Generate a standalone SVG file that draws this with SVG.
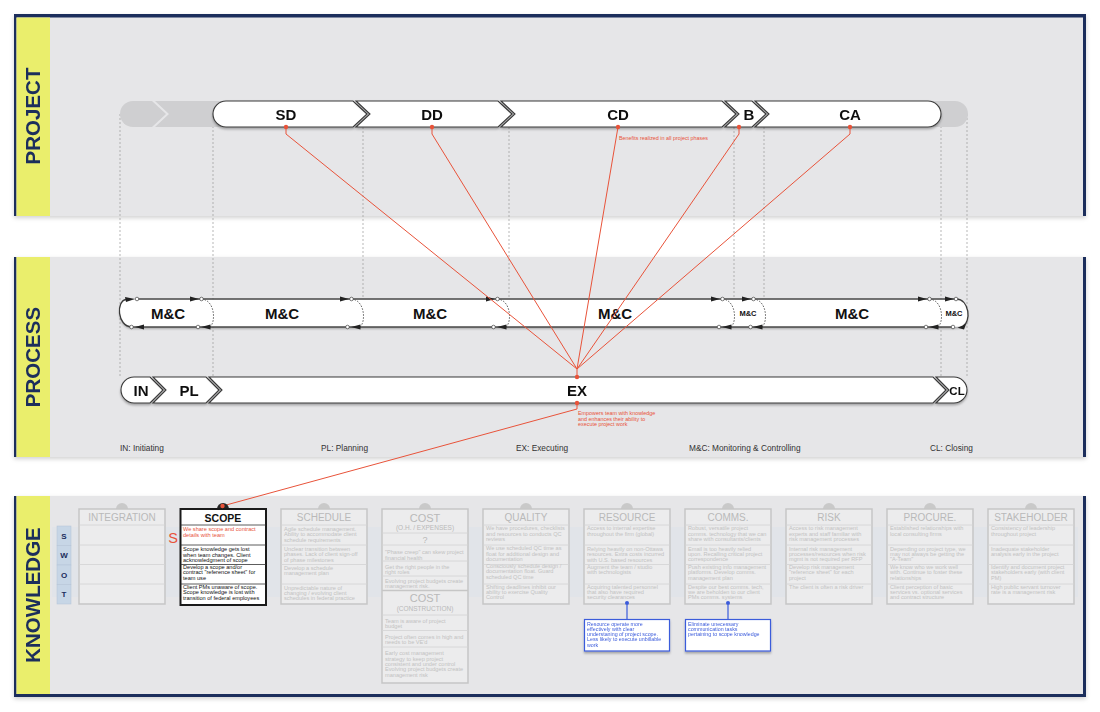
<svg xmlns="http://www.w3.org/2000/svg" width="1100" height="712" viewBox="0 0 1100 712">
<defs>
<filter id="sh" x="-5%" y="-30%" width="110%" height="180%"><feDropShadow dx="0" dy="1.8" stdDeviation="1.3" flood-color="#000" flood-opacity="0.3"/></filter>
<filter id="bsh" x="-2%" y="-5%" width="104%" height="112%"><feDropShadow dx="0" dy="2" stdDeviation="2" flood-color="#000" flood-opacity="0.18"/></filter>
<style>
.navy{fill:#1b2d5c}
.band{fill:#e6e6e8}
.yel{fill:#eaee6c}
.lbl{font-family:"Liberation Sans",Arial,sans-serif;font-weight:bold;font-size:20.5px;fill:#1b2d5c;text-anchor:middle}
.ph{fill:#fff;stroke:#3a3a3a;stroke-width:1.1}
.gh{fill:#cfcfd1}
.pt{font-family:"Liberation Sans",Arial,sans-serif;font-weight:bold;font-size:15px;fill:#111;text-anchor:middle}
.mc{font-family:"Liberation Sans",Arial,sans-serif;font-weight:bold;font-size:15px;fill:#111;text-anchor:middle}
.mcs{font-family:"Liberation Sans",Arial,sans-serif;font-weight:bold;font-size:7.5px;fill:#111;text-anchor:middle}
.dl{stroke:#9a9a9a;stroke-width:0.7;stroke-dasharray:2 2;fill:none}
.red{stroke:#e8533a;stroke-width:1;fill:none}
.rdot{fill:#e8533a}
.rt{font-family:"Liberation Sans",Arial,sans-serif;font-size:5.4px;fill:#e8533a}
.edge{stroke:#4a4a4a;stroke-width:1.4;fill:none}
.darc{stroke:#555;stroke-width:0.9;stroke-dasharray:1.6 1.4;fill:none}
.sarc{stroke:#3a3a3a;stroke-width:1.3;fill:none}
.ah{fill:#222}
.oc{fill:#fff;stroke:#444;stroke-width:0.7}
.leg{font-family:"Liberation Sans",Arial,sans-serif;font-size:8.3px;fill:#333}
.card{fill:#ececed;stroke:#c6c6c6;stroke-width:1.5}
.row{stroke:#d3d3d3;stroke-width:0.8;fill:none}
.tab{fill:#c9c9c9}
.title{font-family:"Liberation Sans",Arial,sans-serif;font-size:10px;fill:#b9b9b9;text-anchor:middle}
.sub{font-family:"Liberation Sans",Arial,sans-serif;font-size:6.5px;fill:#b9b9b9;text-anchor:middle}
.ct{font-family:"Liberation Sans",Arial,sans-serif;font-size:5.6px;fill:#c2c2c2}
.st{font-family:"Liberation Sans",Arial,sans-serif;font-size:5.6px;fill:#111}
.sw{fill:#c7d6e6;stroke:#b3c3d6;stroke-width:0.5}
.swt{font-family:"Liberation Sans",Arial,sans-serif;font-weight:bold;font-size:8px;fill:#1b2d5c;text-anchor:middle}
.blue{stroke:#3b5bdb;stroke-width:1.2;fill:none}
.bbox{fill:#fff;stroke:#3b5bdb;stroke-width:1.2}
.bt{font-family:"Liberation Sans",Arial,sans-serif;font-size:5.3px;fill:#3b5bdb}
</style>
</defs>
<rect width="1100" height="712" fill="#fff"/>

<!-- bands -->
<g id="band-project" filter="url(#bsh)">
<rect class="navy" x="14" y="14" width="1072" height="202"/>
<rect class="band" x="16.5" y="17.5" width="1066.5" height="198.5"/>
<rect class="yel" x="16.5" y="17.5" width="33.5" height="198.5"/>
<text class="lbl" transform="translate(40,116) rotate(-90)">PROJECT</text>
</g>
<g id="band-process" filter="url(#bsh)">
<rect class="navy" x="14" y="257" width="1072" height="200"/>
<rect class="band" x="16.5" y="257" width="1066.5" height="200"/>
<rect class="yel" x="16.5" y="257" width="33.5" height="200"/>
<text class="lbl" transform="translate(40,357) rotate(-90)">PROCESS</text>
</g>
<g id="band-knowledge" filter="url(#bsh)">
<rect class="navy" x="14" y="496" width="1072" height="201"/>
<rect class="band" x="16.5" y="496" width="1066.5" height="198"/>
<rect class="yel" x="16.5" y="496" width="33.5" height="198"/>
<text class="lbl" transform="translate(40,595) rotate(-90)">KNOWLEDGE</text>
<rect x="52" y="527" width="1026" height="70" fill="#dbe2ea" opacity="0.45"/>
</g>

<!-- dotted guide lines -->
<g id="guides">
<path class="dl" d="M120,114V377M213,114V377M941,114V377M967,114V377M363,127V299M509,127V299M734,127V299M764,127V299"/>
</g>

<!-- project phase bar -->
<g id="project-ghost">
<path class="gh" d="M133,101H152L166,114L152,127H133A13,13 0 0 1 133,101Z"/>
<path class="gh" d="M155,101H235V127H155L169,114Z"/>
<path class="gh" d="M915,101H955A13,13 0 0 1 955,127H915Z"/>
</g>
<g id="phase-sd" filter="url(#sh)"><path class="ph" d="M226,101H353L367,114L353,127H226A13,13 0 0 1 226,101Z"/><text class="pt" x="286" y="119.5">SD</text></g>
<g id="phase-dd" filter="url(#sh)"><path class="ph" d="M356,101H498L512,114L498,127H356L370,114Z"/><text class="pt" x="432" y="119.5">DD</text></g>
<g id="phase-cd" filter="url(#sh)"><path class="ph" d="M501,101H722L736,114L722,127H501L515,114Z"/><text class="pt" x="618" y="119.5">CD</text></g>
<g id="phase-b" filter="url(#sh)"><path class="ph" d="M725,101H752L766,114L752,127H725L739,114Z"/><text class="pt" x="749" y="119.5">B</text></g>
<g id="phase-ca" filter="url(#sh)"><path class="ph" d="M755,101H928A13,13 0 0 1 928,127H755L769,114Z"/><text class="pt" x="850" y="119.5">CA</text></g>
<text class="rt" x="619" y="140">Benefits realized in all project phases</text>

<!-- M&C loop bar -->
<g id="mc-loop">
<path fill="#fff" filter="url(#sh)" d="M126,299.5H956C970,299.5 971,322 963,326L953,327H131.5C117,326 116,301 126,299.5Z"/>
<path class="edge" d="M136.5,299H956M131.5,327H953"/>
<path class="sarc" d="M131.5,327C117,326 116,301 126,299.5"/>
<polygon class="ah" points="125,297 135,299 126,302"/>
<polygon class="ah" points="144,324.5 135,327 144,329.5"/>
<circle class="oc" cx="137" cy="299" r="1.8"/>
<circle class="oc" cx="131.5" cy="327" r="1.8"/>
<path class="sarc" d="M956,299C970,299.5 971,322 963,326"/>
<polygon class="ah" points="945,296.5 954,299 945,301.5"/>
<polygon class="ah" points="966,324 957.5,327.8 964,329.4"/>
<circle class="oc" cx="956" cy="299" r="1.8"/>
<circle class="oc" cx="953" cy="327" r="1.8"/>
<path class="darc" d="M201.5,299C215,300 216,322 210,327M351.5,299C365,300 366,322 360,327M497.5,299C511,300 512,322 506,327M722.5,299C736,300 737,322 731,327M753.5,299C767,300 768,322 762,327M929.5,299C943,300 944,322 938,327"/>
<polygon class="ah" points="190,296.5 199,299 190,301.5"/>
<polygon class="ah" points="340,296.5 349,299 340,301.5"/>
<polygon class="ah" points="486,296.5 495,299 486,301.5"/>
<polygon class="ah" points="711,296.5 720,299 711,301.5"/>
<polygon class="ah" points="742,296.5 751,299 742,301.5"/>
<polygon class="ah" points="918,296.5 927,299 918,301.5"/>
<polygon class="ah" points="210.5,324.5 201,327 210.5,329.5"/>
<polygon class="ah" points="360.5,324.5 351,327 360.5,329.5"/>
<polygon class="ah" points="506.5,324.5 497,327 506.5,329.5"/>
<polygon class="ah" points="731.5,324.5 722,327 731.5,329.5"/>
<polygon class="ah" points="762.5,324.5 753,327 762.5,329.5"/>
<polygon class="ah" points="938.5,324.5 929,327 938.5,329.5"/>
<g>
<circle class="oc" cx="201.5" cy="299" r="1.8"/><circle class="oc" cx="351.5" cy="299" r="1.8"/><circle class="oc" cx="497.5" cy="299" r="1.8"/><circle class="oc" cx="722.5" cy="299" r="1.8"/><circle class="oc" cx="753.5" cy="299" r="1.8"/><circle class="oc" cx="929.5" cy="299" r="1.8"/>
<circle class="oc" cx="198" cy="327" r="1.8"/><circle class="oc" cx="347.5" cy="327" r="1.8"/><circle class="oc" cx="493.5" cy="327" r="1.8"/><circle class="oc" cx="719" cy="327" r="1.8"/><circle class="oc" cx="750.5" cy="327" r="1.8"/><circle class="oc" cx="926" cy="327" r="1.8"/>
</g>
<text class="mc" x="168" y="318.5">M&amp;C</text>
<text class="mc" x="282" y="318.5">M&amp;C</text>
<text class="mc" x="430" y="318.5">M&amp;C</text>
<text class="mc" x="615" y="318.5">M&amp;C</text>
<text class="mcs" x="748" y="315.8">M&amp;C</text>
<text class="mc" x="852" y="318.5">M&amp;C</text>
<text class="mcs" x="954" y="315.8">M&amp;C</text>
</g>

<!-- process phase bar -->
<g id="proc-in" filter="url(#sh)"><path class="ph" d="M134,377H150L163,390L150,403H134A13,13 0 0 1 134,377Z"/><text class="pt" x="141" y="395.5">IN</text></g>
<g id="proc-pl" filter="url(#sh)"><path class="ph" d="M153,377H206L219,390L206,403H153L166,390Z"/><text class="pt" x="189" y="395.5">PL</text></g>
<g id="proc-ex" filter="url(#sh)"><path class="ph" d="M209,377H933L946,390L933,403H209L222,390Z"/><text class="pt" x="577" y="395.5">EX</text></g>
<g id="proc-cl" filter="url(#sh)"><path class="ph" d="M936,377H954A13,13 0 0 1 954,403H936L949,390Z"/><text class="pt" x="957" y="394.5" style="font-size:11.5px">CL</text></g>
<text class="rt"><tspan x="578" y="415">Empowers team with knowledge</tspan><tspan x="578" y="420.6">and enhances their ability to</tspan><tspan x="578" y="426.2">execute project work</tspan></text>

<g id="legend">
<text class="leg" x="120" y="451">IN: Initiating</text>
<text class="leg" x="321" y="451">PL: Planning</text>
<text class="leg" x="516" y="451">EX: Executing</text>
<text class="leg" x="689" y="451">M&amp;C: Monitoring &amp; Controlling</text>
<text class="leg" x="930" y="451">CL: Closing</text>
</g>

<!-- connectors -->
<g id="connectors">
<path class="red" d="M286,127V134L577,369M432,127V134L577,369M618,127L577,369M739,127V134L577,369M850,127V134L577,369M577,369V377"/>
<path class="red" d="M577,403V409L222.5,506"/>
<circle class="rdot" cx="286" cy="127" r="2.2"/>
<circle class="rdot" cx="432" cy="127" r="2.2"/>
<circle class="rdot" cx="618" cy="127" r="2.2"/>
<circle class="rdot" cx="739" cy="127" r="2.2"/>
<circle class="rdot" cx="850" cy="127" r="2.2"/>
<circle class="rdot" cx="577" cy="377" r="2.2"/>
<circle class="rdot" cx="577" cy="403" r="2.2"/>
<path class="blue" d="M627,603V619.5M728,603V619.5"/>
</g>

<!-- SWOT -->
<g id="swot">
<rect class="sw" x="57" y="526" width="14" height="19.5"/><text class="swt" x="64" y="538.5">S</text>
<rect class="sw" x="57" y="545.5" width="14" height="19.5"/><text class="swt" x="64" y="558">W</text>
<rect class="sw" x="57" y="565" width="14" height="19.5"/><text class="swt" x="64" y="577.5">O</text>
<rect class="sw" x="57" y="584.5" width="14" height="19.5"/><text class="swt" x="64" y="597">T</text>
</g>

<!-- cards -->
<g id="card-integration">
<circle class="tab" cx="122" cy="509" r="6"/>
<rect class="card" x="79" y="509" width="86" height="95"/>
<path class="row" d="M79,525H165M79,545H165M79,564.5H165M79,584H165"/>
<text class="title" x="122" y="521">INTEGRATION</text>
</g>

<g id="card-scope">
<circle cx="223" cy="509" r="6" fill="#262626"/>
<rect x="180.5" y="509" width="85.5" height="96" fill="#fff" stroke="#1a1a1a" stroke-width="2"/>
<path d="M180.5,525H266M180.5,545H266M180.5,564.5H266M180.5,584H266" stroke="#333" stroke-width="0.8" fill="none"/>
<text x="223" y="521.5" style="font-family:'Liberation Sans',Arial,sans-serif;font-weight:bold;font-size:10.5px;fill:#111;text-anchor:middle">SCOPE</text>
<text class="rt" style="font-size:5.6px"><tspan x="183" y="531">We share scope and contract</tspan><tspan x="183" y="536.5">details with team</tspan></text>
<text class="st"><tspan x="183" y="551">Scope knowledge gets lost</tspan><tspan x="183" y="556.5">when team changes. Client</tspan><tspan x="183" y="562">acknowledgment of scope</tspan></text>
<text class="st"><tspan x="183" y="568.7">Develop a scope and/or</tspan><tspan x="183" y="574.3">contract "reference sheet" for</tspan><tspan x="183" y="580">team use</tspan></text>
<text class="st"><tspan x="183" y="588.7">Client PMs unaware of scope.</tspan><tspan x="183" y="594.3">Scope knowledge is lost with</tspan><tspan x="183" y="600">transition of federal employees</tspan></text>
<text x="173" y="542.5" style="font-family:'Liberation Sans',Arial,sans-serif;font-size:14.5px;fill:#e8533a;text-anchor:middle">S</text>
<circle class="rdot" cx="222.5" cy="506" r="2.2"/>
</g>

<g id="card-schedule">
<circle class="tab" cx="324" cy="509" r="6"/>
<rect class="card" x="281" y="509" width="86" height="95"/>
<path class="row" d="M281,525H367M281,545H367M281,564.5H367M281,584H367"/>
<text class="title" x="324" y="521">SCHEDULE</text>
<text class="ct"><tspan x="284" y="531">Agile schedule management.</tspan><tspan x="284" y="536.4">Ability to accommodate client</tspan><tspan x="284" y="541.8">schedule requirements</tspan></text>
<text class="ct"><tspan x="284" y="551">Unclear transition between</tspan><tspan x="284" y="556.4">phases. Lack of client sign-off</tspan><tspan x="284" y="561.8">of phase milestones</tspan></text>
<text class="ct"><tspan x="284" y="570">Develop a schedule</tspan><tspan x="284" y="575.4">management plan</tspan></text>
<text class="ct"><tspan x="284" y="589.5">Unpredictable nature of</tspan><tspan x="284" y="594.9">changing / evolving client</tspan><tspan x="284" y="600.3">schedules in federal practice</tspan></text>
</g>

<g id="card-cost">
<circle class="tab" cx="425" cy="509" r="6"/>
<rect class="card" x="382" y="509" width="86" height="174"/>
<path class="row" d="M382,533H468M382,545H468M382,561H468M382,576H468M382,615H468M382,630.5H468M382,647H468"/>
<path d="M382,590.5H468" stroke="#c6c6c6" stroke-width="1.3"/>
<text class="title" x="425" y="522" style="font-size:11px">COST</text>
<text class="sub" x="425" y="530.3">(O.H. / EXPENSES)</text>
<text class="title" x="425" y="542.5" style="font-size:9px">?</text>
<text class="ct"><tspan x="385" y="554.3">"Phase creep" can skew project</tspan><tspan x="385" y="559.6">financial health</tspan></text>
<text class="ct"><tspan x="385" y="568.7">Get the right people in the</tspan><tspan x="385" y="574">right roles</tspan></text>
<text class="ct"><tspan x="385" y="582.5">Evolving project budgets create</tspan><tspan x="385" y="587.8">management risk.</tspan></text>
<text class="title" x="425" y="602.3" style="font-size:11px">COST</text>
<text class="sub" x="425" y="610.6">(CONSTRUCTION)</text>
<text class="ct"><tspan x="385" y="623">Team is aware of project</tspan><tspan x="385" y="628.3">budget</tspan></text>
<text class="ct"><tspan x="385" y="638.7">Project often comes in high and</tspan><tspan x="385" y="644">needs to be VE'd</tspan></text>
<text class="ct"><tspan x="385" y="655.3">Early cost management</tspan><tspan x="385" y="660.6">strategy to keep project</tspan><tspan x="385" y="665.9">consistent and under control</tspan><tspan x="385" y="671.3">Evolving project budgets create</tspan><tspan x="385" y="676.6">management risk</tspan></text>
</g>

<g id="card-quality">
<circle class="tab" cx="526" cy="509" r="6"/>
<rect class="card" x="483" y="509" width="86" height="95"/>
<path class="row" d="M483,525H569M483,545H569M483,564.5H569M483,584H569"/>
<text class="title" x="526" y="521">QUALITY</text>
<text class="ct"><tspan x="486" y="530.3">We have procedures, checklists</tspan><tspan x="486" y="535.7">and resources to conducts QC</tspan><tspan x="486" y="541">reviews</tspan></text>
<text class="ct"><tspan x="486" y="550.3">We use scheduled QC time as</tspan><tspan x="486" y="555.7">float for additional design and</tspan><tspan x="486" y="561">documentation</tspan></text>
<text class="ct"><tspan x="486" y="568">Consciously schedule design /</tspan><tspan x="486" y="573.3">documentation float. Guard</tspan><tspan x="486" y="578.7">scheduled QC time</tspan></text>
<text class="ct"><tspan x="486" y="588.7">Shifting deadlines inhibit our</tspan><tspan x="486" y="594">ability to exercise Quality</tspan><tspan x="486" y="599.3">Control</tspan></text>
</g>

<g id="card-resource">
<circle class="tab" cx="627" cy="509" r="6"/>
<rect class="card" x="584" y="509" width="86" height="95"/>
<path class="row" d="M584,525H670M584,545H670M584,564.5H670M584,584H670"/>
<text class="title" x="627" y="521">RESOURCE</text>
<text class="ct"><tspan x="587" y="530">Access to internal expertise</tspan><tspan x="587" y="535.5">throughout the firm (global)</tspan></text>
<text class="ct"><tspan x="587" y="550.5">Relying heavily on non-Ottawa</tspan><tspan x="587" y="556">resources. Extra costs incurred</tspan><tspan x="587" y="561.5">with U.S. based resources</tspan></text>
<text class="ct"><tspan x="587" y="568.7">Augment the team / studio</tspan><tspan x="587" y="574">with technologists</tspan></text>
<text class="ct"><tspan x="587" y="588.7">Acquiring talented personnel</tspan><tspan x="587" y="594">that also have required</tspan><tspan x="587" y="599.3">security clearances</tspan></text>
<circle cx="627" cy="603" r="2" fill="#3b5bdb"/>
</g>

<g id="card-comms">
<circle class="tab" cx="728" cy="509" r="6"/>
<rect class="card" x="685" y="509" width="86" height="95"/>
<path class="row" d="M685,525H771M685,545H771M685,564.5H771M685,584H771"/>
<text class="title" x="728" y="521">COMMS.</text>
<text class="ct"><tspan x="688" y="530.3">Robust, versatile project</tspan><tspan x="688" y="535.7">comms. technology that we can</tspan><tspan x="688" y="541">share with consultants/clients</tspan></text>
<text class="ct"><tspan x="688" y="550.7">Email is too heavily relied</tspan><tspan x="688" y="556">upon. Recalling critical project</tspan><tspan x="688" y="561.3">correspondence</tspan></text>
<text class="ct"><tspan x="688" y="569">Push existing info management</tspan><tspan x="688" y="574.3">platforms. Develop comms.</tspan><tspan x="688" y="579.7">management plan</tspan></text>
<text class="ct"><tspan x="688" y="588.7">Despite our best comms. tech,</tspan><tspan x="688" y="594">we are beholden to our client</tspan><tspan x="688" y="599.3">PMs comms. systems</tspan></text>
<circle cx="728" cy="603" r="2" fill="#3b5bdb"/>
</g>

<g id="card-risk">
<circle class="tab" cx="829" cy="509" r="6"/>
<rect class="card" x="786" y="509" width="86" height="95"/>
<path class="row" d="M786,525H872M786,545H872M786,564.5H872M786,584H872"/>
<text class="title" x="829" y="521">RISK</text>
<text class="ct"><tspan x="789" y="530.3">Access to risk management</tspan><tspan x="789" y="535.7">experts and staff familiar with</tspan><tspan x="789" y="541">risk management processes</tspan></text>
<text class="ct"><tspan x="789" y="550.7">Internal risk management</tspan><tspan x="789" y="556">processes/resources when risk</tspan><tspan x="789" y="561.3">mgmt is not required per RFP</tspan></text>
<text class="ct"><tspan x="789" y="569">Develop risk management</tspan><tspan x="789" y="574.3">"reference sheet" for each</tspan><tspan x="789" y="579.7">project</tspan></text>
<text class="ct"><tspan x="789" y="588.7">The client is often a risk driver</tspan></text>
</g>

<g id="card-procure">
<circle class="tab" cx="930" cy="509" r="6"/>
<rect class="card" x="887" y="509" width="86" height="95"/>
<path class="row" d="M887,525H973M887,545H973M887,564.5H973M887,584H973"/>
<text class="title" x="930" y="521">PROCURE.</text>
<text class="ct"><tspan x="890" y="530.3">Established relationships with</tspan><tspan x="890" y="535.7">local consulting firms</tspan></text>
<text class="ct"><tspan x="890" y="550.7">Depending on project type, we</tspan><tspan x="890" y="556">may not always be getting the</tspan><tspan x="890" y="561.3">"A-Team"</tspan></text>
<text class="ct"><tspan x="890" y="569">We know who we work well</tspan><tspan x="890" y="574.3">with. Continue to foster these</tspan><tspan x="890" y="579.7">relationships</tspan></text>
<text class="ct"><tspan x="890" y="588.7">Client perception of basic</tspan><tspan x="890" y="594">services vs. optional services</tspan><tspan x="890" y="599.3">and contract structure</tspan></text>
</g>

<g id="card-stakeholder">
<circle class="tab" cx="1031" cy="509" r="6"/>
<rect class="card" x="988" y="509" width="86" height="95"/>
<path class="row" d="M988,525H1074M988,545H1074M988,564.5H1074M988,584H1074"/>
<text class="title" x="1031" y="521">STAKEHOLDER</text>
<text class="ct"><tspan x="991" y="530.3">Consistency of leadership</tspan><tspan x="991" y="535.7">throughout project</tspan></text>
<text class="ct"><tspan x="991" y="550.7">Inadequate stakeholder</tspan><tspan x="991" y="556">analysis early in the project</tspan></text>
<text class="ct"><tspan x="991" y="569">Identify and document project</tspan><tspan x="991" y="574.3">stakeholders early (with client</tspan><tspan x="991" y="579.7">PM)</tspan></text>
<text class="ct"><tspan x="991" y="588.7">High public servant turnover</tspan><tspan x="991" y="594">rate is a management risk</tspan></text>
</g>

<!-- callouts -->
<g id="note-resource" filter="url(#sh)">
<rect class="bbox" x="584.5" y="619.5" width="85" height="31.5"/>
<text class="bt"><tspan x="587" y="625.5">Resource operate more</tspan><tspan x="587" y="630.8">effectively with clear</tspan><tspan x="587" y="636.1">understaning of project scope.</tspan><tspan x="587" y="641.4">Less likely to execute unbillable</tspan><tspan x="587" y="646.7">work</tspan></text>
</g>
<g id="note-comms" filter="url(#sh)">
<rect class="bbox" x="685.5" y="619.5" width="85" height="31.5"/>
<text class="bt"><tspan x="688" y="625.5">Eliminate unecessary</tspan><tspan x="688" y="630.8">communication tasks</tspan><tspan x="688" y="636.1">pertaining to scope knowledge</tspan></text>
</g>
</svg>
